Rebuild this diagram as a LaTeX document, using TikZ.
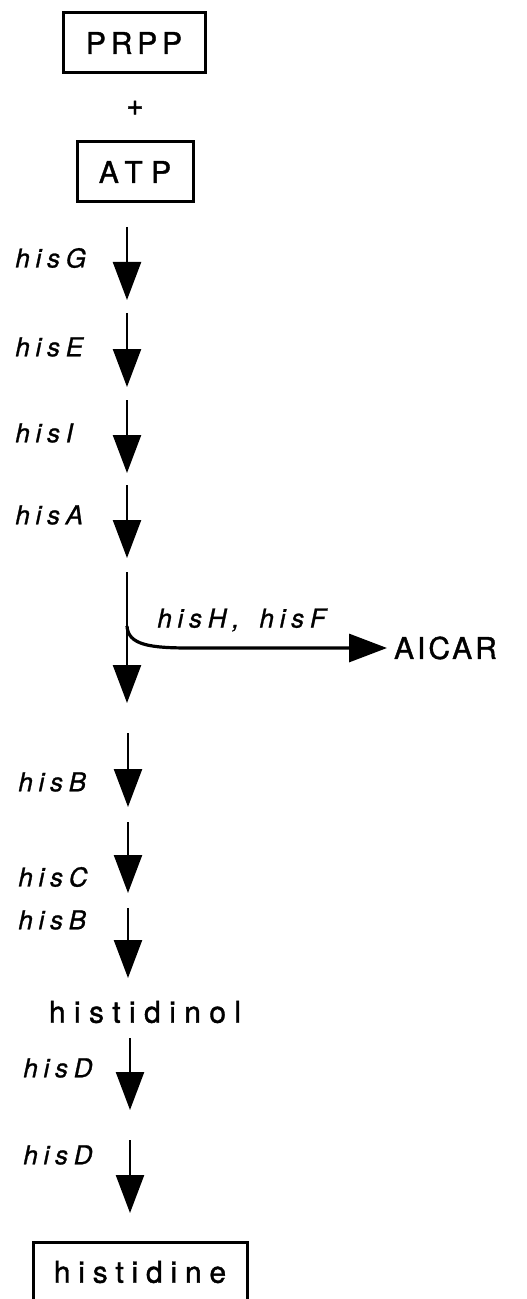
\documentclass[tikz,border=0pt]{standalone}
\usepackage{fontspec}
\setmainfont{TeX Gyre Heros}
\usetikzlibrary{arrows.meta}

\newcommand{\cpdfont}[1]{\fontsize{15}{18}\selectfont\addfontfeature{LetterSpace=#1, FakeBold=1.2}}
\newcommand{\genefont}{\fontsize{13}{15}\selectfont\itshape\addfontfeature{LetterSpace=22, FakeBold=1}}

\begin{document}
\begin{tikzpicture}[
        x=0.5pt, y=-0.5pt,
        compound/.style={draw, line width=1.5pt, minimum height=30pt, inner sep=0pt},
        gene/.style={anchor=west, inner sep=0pt, font=\genefont},
        rxn/.style={line width=1.2pt, -{Triangle[width=14pt, length=19pt]}}
      ]

      \fill[white] (0,0) rectangle (526,1299);
      \clip (0,0) rectangle (526,1299);

      % substrates
      \node[compound, minimum width=71pt, font=\cpdfont{16}] (prpp) at (134,43) {PRPP};
      \node[font=\cpdfont{0}] (plus) at (135,108) {+};
      \node[compound, minimum width=58pt, font=\cpdfont{28}] (atp) at (135,172) {ATP};

      % start and end points of the reaction arrows
      \coordinate (s1) at (127,227);  \coordinate (e1) at (127,300);
      \coordinate (s2) at (127,313);  \coordinate (e2) at (127,387);
      \coordinate (s3) at (127,400);  \coordinate (e3) at (127,473);
      \coordinate (s4) at (127,485);  \coordinate (e4) at (127,558);
      \coordinate (s5) at (127,572);  \coordinate (e5) at (127,703);
      \coordinate (s6) at (128,733);  \coordinate (e6) at (128,807);
      \coordinate (s7) at (128,822);  \coordinate (e7) at (128,893);
      \coordinate (s8) at (128,908);  \coordinate (e8) at (128,978);
      \coordinate (s9) at (130,1038); \coordinate (e9) at (130,1110);
      \coordinate (s10) at (130,1140); \coordinate (e10) at (130,1213);
      \coordinate (fork) at (127,626);

      \draw[rxn] (s1) -- (e1);
      \draw[rxn] (s2) -- (e2);
      \draw[rxn] (s3) -- (e3);
      \draw[rxn] (s4) -- (e4);
      \draw[rxn] (s5) -- (e5);
      \draw[rxn] (s6) -- (e6);
      \draw[rxn] (s7) -- (e7);
      \draw[rxn] (s8) -- (e8);
      \draw[rxn] (s9) -- (e9);
      \draw[rxn] (s10) -- (e10);

      % gene labels
      \node[gene] (hisG) at (15,258) {hisG};
      \node[gene] (hisE) at (15,347) {hisE};
      \node[gene] (hisI) at (15,433) {hisI};
      \node[gene] (hisA) at (15,515) {hisA};
      \node[gene] (hisB1) at (18,782) {hisB};
      \node[gene] (hisC) at (18,877) {hisC};
      \node[gene] (hisB2) at (18,920) {hisB};
      \node[gene] (hisD1) at (23,1068) {hisD};
      \node[gene] (hisD2) at (23,1155) {hisD};

      % side branch
      \node[anchor=west, font=\cpdfont{10}] (aicar) at (387,648) {AICAR};
      \draw[line width=1.6pt, -{Triangle[width=14pt, length=19pt]}]
        (fork) .. controls (128,645) and (150,648) .. (190,648) -- (aicar.west);
      \node[gene] (hisHF) at (157,620) {hisH,\hspace{10pt}hisF};

      % products
      \node[font=\cpdfont{28}] (histidinol) at (145,1012) {histidinol};
      \node[compound, minimum width=107pt, font=\cpdfont{26}] (histidine) at (140,1272) {histidine};

\end{tikzpicture}
\end{document}
